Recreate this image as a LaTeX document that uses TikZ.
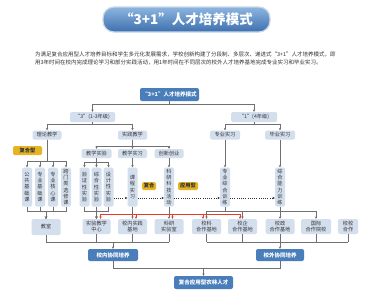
\documentclass[tikz,border=0pt]{standalone}
\usepackage{fontspec}
\setmainfont{Noto Sans CJK SC}
\usetikzlibrary{arrows.meta}
\definecolor{lb}{HTML}{D4DFEE}
\definecolor{db}{HTML}{4A7EBB}
\definecolor{tg}{HTML}{E5B323}
\definecolor{lnc}{HTML}{707070}
\definecolor{rdc}{HTML}{E8392B}
\definecolor{txc}{HTML}{333333}
\definecolor{tt1}{HTML}{8DB5E0}
\definecolor{tt2}{HTML}{3D70AE}
\definecolor{tbd}{HTML}{C9D8EA}
\begin{document}
\begin{tikzpicture}[x=1pt,y=-1pt,
  every node/.style={inner sep=0pt,outer sep=0pt},
  lbox/.style={fill=lb,rounded corners=1.5pt,text=txc,align=center,
    font=\fontsize{5.2}{6.4}\selectfont,minimum width=29pt,minimum height=9pt},
  vbox/.style={lbox,minimum width=10pt,minimum height=39pt,font=\fontsize{5.2}{6.2}\selectfont},
  bbox/.style={lbox,minimum height=15pt},
  dbox/.style={fill=db,rounded corners=2pt,text=white,align=center,
    font=\bfseries\fontsize{5.5}{6.5}\selectfont,minimum height=12pt},
  tagbox/.style={fill=tg,rounded corners=1.5pt,text=txc,
    font=\bfseries\fontsize{5.2}{6}\selectfont,minimum height=8pt},
  ln/.style={draw=lnc,line width=0.6pt},
  arr/.style={ln,-{Stealth[length=2.6pt,width=2.4pt]}},
  rarr/.style={draw=rdc,line width=0.6pt,-{Stealth[length=2.6pt,width=2.4pt]}},
  dotarr/.style={draw=txc,line width=0.7pt,dash pattern=on 0.7pt off 1.5pt,
    -{Stealth[length=2.6pt,width=2.4pt]}},
]
\useasboundingbox (0,0) rectangle (378,297);
\fill[white] (0,0) rectangle (378,297);

% title banner
\node[draw=tbd,line width=1.2pt,rounded corners=11pt,top color=tt1,bottom color=tt2,
  minimum width=167pt,minimum height=25pt,text=white,
  font=\bfseries\fontsize{13.5}{15}\selectfont] (title) at (186.5,19.5) {“3+1”人才培养模式};

% paragraph
\node[anchor=west,align=left,text=txc,font=\fontsize{5.5}{8}\selectfont] (para) at (35,58)
  {为满足复合应用型人才培养目标和学生多元化发展需求，学校创新构建了分段制、多层次、递进式“3+1”人才培养模式，即\\
   用3年时间在校内完成理论学习和部分实践活动，用1年时间在不同层次的校外人才培养基地完成专业实习和毕业实习。};

% level nodes
\node[dbox,minimum width=59pt,minimum height=13pt] (root) at (169.5,94.5) {“3+1”人才培养模式};
\node[lbox,minimum width=45pt,minimum height=10pt] (n3) at (92.5,117) {“3”(1-3年级)};
\node[lbox,minimum width=46pt,minimum height=10pt] (n1) at (254,117) {“1”(4年级)};

\node[lbox] (ll) at (47,135) {理论教学};
\node[lbox] (sj) at (132.5,135) {实践教学};
\node[lbox,minimum width=30pt] (zs) at (225,135) {专业实习};
\node[lbox,minimum width=30pt] (bs) at (280,135) {毕业实习};

\node[tagbox,minimum width=29pt,minimum height=9pt] (fhx) at (27.5,150.5) {复合型};

\node[lbox,minimum width=30pt] (jx) at (96.5,153.5) {教学实验};
\node[lbox] (jxx) at (132.5,153.5) {教学实习};
\node[lbox] (cx) at (169,153.5) {创新创业};

% vertical boxes
\node[vbox] (c1) at (27,187) {公\\共\\基\\础\\课};
\node[vbox] (c2) at (40,187) {专\\业\\基\\础\\课};
\node[vbox] (c3) at (53,187) {专\\业\\核\\心\\课};
\node[vbox] (c4) at (66,187) {跨\\门\\类\\选\\修\\课};
\node[vbox] (e1) at (84.5,187) {验\\证\\性\\实\\验};
\node[vbox] (e2) at (96.5,187) {综\\合\\性\\实\\验};
\node[vbox] (e3) at (108.5,187) {设\\计\\性\\实\\验};
\node[vbox] (kc) at (132.5,187) {课\\程\\实\\习};
\node[vbox] (ky) at (169,187) {科\\研\\科\\技\\活\\动};
\node[vbox] (zh) at (225,187) {专\\业\\综\\合\\训\\练};
\node[vbox] (zn) at (280,187) {综\\合\\能\\力\\训\\练};

\node[tagbox,minimum width=14pt] (fh) at (149,186) {复合};
\node[tagbox,minimum width=20pt] (yy) at (188,186) {应用型};

% bottom row
\node[bbox,minimum height=16pt] (js) at (46,227) {教室};
\node[bbox,minimum width=28pt] (sy) at (96.5,226.5) {实验教学\\中心};
\node[bbox] (xs) at (132.5,226.5) {校内实践\\基地};
\node[bbox] (kys) at (169,226.5) {科研\\实验室};
\node[bbox] (xk) at (206.5,226.5) {校科\\合作基地};
\node[bbox] (xq) at (242.5,226.5) {校企\\合作基地};
\node[bbox] (xz) at (280,226.5) {校政\\合作基地};
\node[bbox,minimum width=30pt] (gj) at (316,226.5) {国际\\合作院校};
\node[bbox,minimum width=20pt] (xx) at (348,226.5) {校校\\合作};

\node[dbox,minimum width=50pt] (nx) at (113,255) {校内协同培养};
\node[dbox,minimum width=48pt] (wx) at (280,255) {校外协同培养};
\node[dbox,minimum width=59pt,minimum height=13pt] (fin) at (203.5,282.5) {复合应用型农林人才};

% tree connectors
\draw[arr] (root.south) -- ++(0,3) -| (n3.north);
\draw[arr] (root.south) -- ++(0,3) -| (n1.north);
\draw[arr] (n3.south) -- ++(0,2.5) -| (ll.north);
\draw[arr] (n3.south) -- ++(0,2.5) -| (sj.north);
\draw[arr] (n1.south) -- ++(0,2.5) -| (zs.north);
\draw[arr] (n1.south) -- ++(0,2.5) -| (bs.north);

\foreach \c in {c1,c2,c3,c4} \draw[arr] (ll.south) -- ++(0,22) -| (\c.north);
\draw[arr] (sj.south) -- ++(0,7) -| (jx.north);
\draw[arr] (sj.south) -- ++(0,7) -| (jxx.north);
\draw[arr] (sj.south) -- ++(0,7) -| (cx.north);
\foreach \c in {e1,e2,e3} \draw[arr] (jx.south) -- ++(0,4) -| (\c.north);
\draw[arr] (jxx.south) -- (kc.north);
\draw[arr] (cx.south) -- (ky.north);
\draw[arr] (zs.south) -- (zh.north);
\draw[arr] (bs.south) -- (zn.north);

% dotted progression
\coordinate (dl) at (0,198);
\draw[dotarr] (e3.east |- dl) -- (kc.west |- dl);
\draw[dotarr] (kc.east |- dl) -- (ky.west |- dl);
\draw[dotarr] (ky.east |- dl) -- (zh.west |- dl);
\draw[dotarr] (zh.east |- dl) -- (zn.west |- dl);

% into bottom row
\foreach \c in {c1,c2,c3,c4} \draw[arr] (\c.south) -- ++(0,5) -| (js.north);
\foreach \c in {e1,e2,e3} \draw[arr] (\c.south) -- ++(0,5) -| (sy.north);
\draw[arr] (kc.south) -- (xs.north);
\draw[arr] (ky.south) -- (kys.north);

\coordinate (gl) at (0,211);
\draw[ln] (zh.south) -- (zh.south |- gl);
\draw[ln] (xk.north |- gl) -- (gj.north |- gl);
\foreach \c in {xk,xq,gj} \draw[arr] (\c.north |- gl) -- (\c.north);
\draw[arr] (zn.south) -- (xz.north);

% red line
\coordinate (rl) at (0,214);
\draw[draw=rdc,line width=0.6pt] ([xshift=4pt]sy.north |- rl) -- ([xshift=-2.5pt]xq.north |- rl);
\draw[rarr] ([xshift=4pt]sy.north |- rl) -- ([xshift=4pt]sy.north);
\draw[rarr] ([xshift=3.5pt]xs.north |- rl) -- ([xshift=3.5pt]xs.north);
\draw[rarr] ([xshift=3.5pt]kys.north |- rl) -- ([xshift=3.5pt]kys.north);
\draw[rarr] ([xshift=-3.5pt]xk.north |- rl) -- ([xshift=-3.5pt]xk.north);
\draw[rarr] ([xshift=-2.5pt]xq.north |- rl) -- ([xshift=-2.5pt]xq.north);

% gathering
\coordinate (bl) at (0,242);
\foreach \c in {js,sy,xs,kys} \draw[ln] (\c.south) -- (\c.south |- bl);
\draw[ln] (js.south |- bl) -- (kys.south |- bl);
\draw[arr] (nx.north |- bl) -- (nx.north);
\foreach \c in {xk,xq,xz,gj,xx} \draw[ln] (\c.south) -- (\c.south |- bl);
\draw[ln] (xk.south |- bl) -- (xx.south |- bl);
\draw[arr] (wx.north |- bl) -- (wx.north);

\draw[ln] (nx.south) -- ++(0,7) -| (wx.south);
\path (nx.south) ++(0,7) coordinate (fm);
\draw[arr] (fm -| fin.north) -- (fin.north);
\end{tikzpicture}
\end{document}
